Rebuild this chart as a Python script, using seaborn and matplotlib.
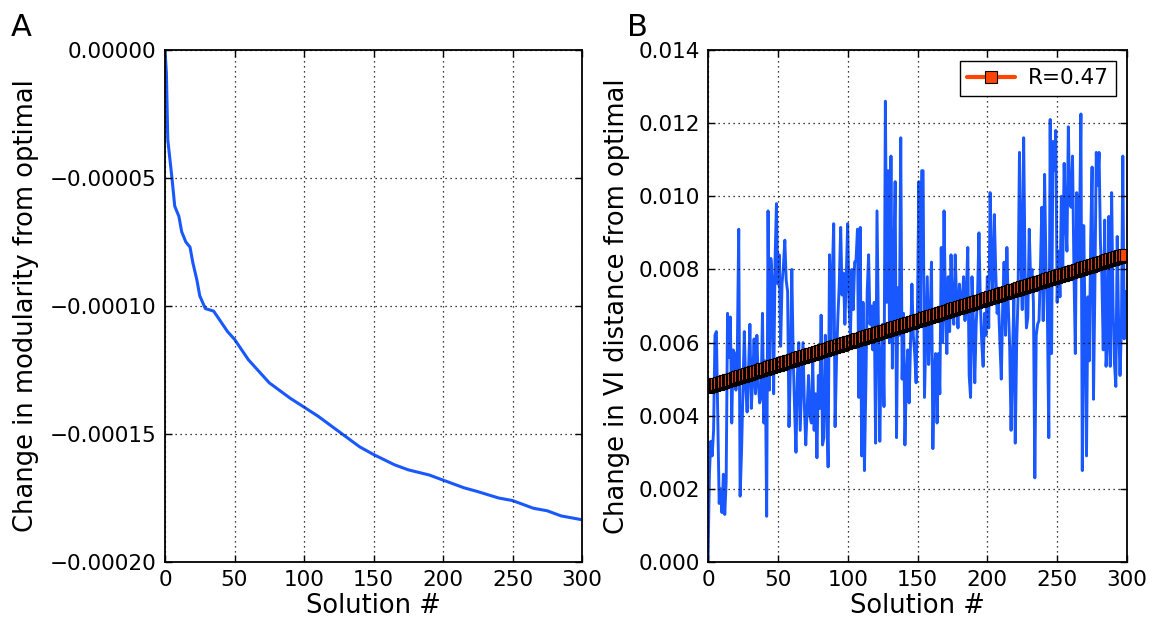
import numpy as np
import pandas as pd
import matplotlib
matplotlib.use("Agg")
import matplotlib.pyplot as plt
from matplotlib.ticker import FuncFormatter, MultipleLocator
import seaborn as sns

# ---------------- data ----------------
# Panel A: change in modularity from optimal (sorted solutions)
mod_x = [0, 1, 2, 5, 7, 10, 12, 15, 18, 20, 23, 25, 29, 35, 40, 45, 50, 60, 75,
         90, 100, 110, 125, 140, 150, 165, 175, 190, 200, 215, 225, 240, 250,
         265, 275, 285, 300]
mod_y_e5 = [0.0, -0.9, -3.5, -5.0, -6.1, -6.5, -7.1, -7.5, -7.7, -8.3, -9.0, -9.6,
            -10.1, -10.2, -10.6, -11.0, -11.3, -12.1, -13.0, -13.6, -13.95, -14.3,
            -14.9, -15.5, -15.8, -16.2, -16.4, -16.6, -16.8, -17.1, -17.25, -17.5,
            -17.6, -17.9, -18.0, -18.2, -18.35]

# Panel B: change in VI distance from optimal (x 1e-3), solutions 0..299
vi_e3 = [
    0.0, 2.4, 3.3, 2.9, 3.6, 6.2, 6.3, 4.0, 1.6, 2.0,
    1.35, 2.4, 1.3, 2.2, 6.8, 5.6, 6.7, 3.8, 5.8, 5.7,
    4.7, 5.8, 9.1, 1.8, 3.0, 4.6, 6.3, 4.8, 4.1, 5.2,
    6.5, 4.2, 5.0, 6.1, 4.6, 6.2, 4.9, 4.35, 4.5, 6.8,
    3.8, 5.5, 1.25, 9.6, 4.7, 8.3, 7.7, 4.6, 8.2, 9.8,
    7.6, 8.4, 5.9, 7.6, 8.1, 8.8, 7.7, 7.4, 3.7, 5.3,
    8.0, 5.6, 4.2, 3.0, 5.1, 6.0, 3.6, 4.8, 6.0, 4.3,
    3.2, 4.2, 5.1, 4.0, 3.8, 5.5, 3.6, 4.6, 2.85, 5.1,
    4.2, 6.75, 3.2, 3.4, 6.2, 4.5, 2.6, 8.4, 6.0, 7.8,
    9.25, 3.7, 5.5, 6.7, 7.6, 9.15, 7.3, 7.9, 6.5, 7.8,
    9.25, 7.0, 6.2, 8.0, 6.9, 8.2, 8.25, 9.1, 4.5, 9.15,
    2.9, 7.1, 2.5, 4.8, 7.4, 8.4, 6.5, 7.0, 5.8, 7.1,
    3.25, 9.6, 6.35, 3.3, 5.6, 6.5, 4.25, 12.6, 7.1, 10.7,
    6.0, 11.1, 5.3, 8.0, 10.4, 3.4, 7.5, 6.2, 11.6, 5.0,
    6.8, 3.2, 5.0, 5.8, 4.35, 6.0, 7.6, 6.2, 5.7, 4.9,
    7.0, 10.4, 6.5, 10.7, 10.7, 4.5, 6.2, 7.8, 5.4, 6.5,
    8.2, 3.1, 5.2, 5.7, 3.8, 5.7, 4.6, 8.6, 6.0, 9.6,
    7.0, 5.7, 7.8, 6.3, 8.4, 6.9, 6.5, 8.4, 7.1, 6.4,
    7.6, 6.9, 7.1, 7.8, 6.6, 7.4, 8.6, 5.1, 4.5, 7.8,
    6.6, 4.9, 6.5, 7.3, 9.0, 7.1, 6.0, 5.35, 6.8, 6.2,
    7.8, 6.4, 10.1, 8.0, 7.4, 9.5, 7.95, 6.8, 7.1, 6.0,
    5.0, 7.0, 8.2, 6.2, 8.6, 7.0, 5.9, 3.6, 5.6, 7.2,
    3.25, 6.0, 7.25, 11.2, 8.5, 6.9, 11.6, 8.0, 6.4, 6.7,
    9.1, 7.7, 8.0, 7.1, 2.3, 6.2, 6.5, 6.6, 8.0, 9.7,
    6.6, 10.6, 8.0, 6.8, 3.4, 12.1, 5.7, 11.5, 10.7, 11.8,
    7.1, 8.5, 7.25, 10.0, 8.0, 10.9, 9.35, 8.5, 11.9, 9.8,
    9.7, 11.1, 8.0, 5.7, 10.1, 7.8, 9.1, 12.25, 2.5, 9.2,
    6.5, 2.9, 7.25, 5.5, 8.8, 10.8, 4.45, 7.5, 11.2, 10.3,
    11.2, 8.7, 7.8, 5.8, 9.35, 5.35, 6.0, 9.45, 5.35, 10.1,
    7.0, 5.45, 4.8, 8.9, 6.5, 5.1, 6.4, 11.1, 6.1, 7.4,
]
legend_label = "R=0.47"
xlabel = "Solution #"
ylabel_a = "Change in modularity from optimal"
ylabel_b = "Change in VI distance from optimal"

# ---------------- frames ----------------
df_a = pd.DataFrame({"x": mod_x, "y": np.array(mod_y_e5) * 1e-5})
vi = np.array(vi_e3) * 1e-3
sol = np.arange(len(vi))
slope, intercept = np.polyfit(sol, vi, 1)
df_b = pd.DataFrame({"x": sol, "y": vi, "fit": intercept + slope * sol})

# ---------------- style ----------------
sns.set_style("ticks")
plt.rcParams["font.family"] = ["DejaVu Sans"]
plt.rcParams["axes.unicode_minus"] = True
for k in ["text.color", "axes.labelcolor", "xtick.color", "ytick.color",
          "xtick.labelcolor", "ytick.labelcolor"]:
    plt.rcParams[k] = "black"

BLUE = "#1a58ff"
FS_TICK = 15.5
FS_LAB = 18.5

fig = plt.figure(figsize=(11.53, 6.17), dpi=100)
ax_a = fig.add_axes([165 / 1153, 1 - 562 / 617, (582 - 165) / 1153, (562 - 50) / 617])
ax_b = fig.add_axes([708 / 1153, 1 - 562 / 617, (1127 - 708) / 1153, (562 - 50) / 617])


def style_axes(ax):
    for s in ax.spines.values():
        s.set_visible(True)
        s.set_linewidth(1.3)
        s.set_color("black")
    ax.tick_params(direction="in", top=True, right=True, length=5, width=1,
                   labelsize=FS_TICK, pad=6, colors="black")
    ax.grid(True, linestyle=(0, (1, 3)), color="black", linewidth=0.9)
    ax.set_axisbelow(False)
    ax.set_xlim(0, 300)
    ax.xaxis.set_major_locator(MultipleLocator(50))
    ax.set_xlabel(xlabel, fontsize=FS_LAB, labelpad=2)


def fmt(dec):
    def f(v, pos):
        s = f"{v:.{dec}f}"
        if float(s) == 0:
            s = s.lstrip("-")
        return s.replace("-", "\u2212")
    return FuncFormatter(f)


# Panel A
sns.lineplot(data=df_a, x="x", y="y", ax=ax_a, color=BLUE, linewidth=2.2,
             estimator=None, sort=False)
style_axes(ax_a)
ax_a.set_ylim(-0.0002, 0.0)
ax_a.yaxis.set_major_locator(MultipleLocator(0.00005))
ax_a.yaxis.set_major_formatter(fmt(5))
ax_a.set_ylabel(ylabel_a, fontsize=FS_LAB, labelpad=8)

# Panel B
sns.lineplot(data=df_b, x="x", y="y", ax=ax_b, color=BLUE, linewidth=2.1,
             estimator=None, sort=False)
sns.lineplot(data=df_b, x="x", y="fit", ax=ax_b, color="#ff4500", linewidth=3,
             marker="s", markersize=8, markerfacecolor="#ff4500",
             markeredgecolor="black", markeredgewidth=0.8,
             estimator=None, sort=False, label=legend_label)
style_axes(ax_b)
ax_b.set_ylim(0, 0.014)
ax_b.yaxis.set_major_locator(MultipleLocator(0.002))
ax_b.yaxis.set_major_formatter(fmt(3))
ax_b.set_ylabel(ylabel_b, fontsize=FS_LAB, labelpad=6)
leg = ax_b.legend(loc="upper right", fontsize=FS_TICK, frameon=True, fancybox=False,
                  borderpad=0.35, handlelength=2.2, handletextpad=0.6,
                  borderaxespad=0.5)
leg.get_frame().set_edgecolor("black")
leg.get_frame().set_linewidth(1.0)
leg.get_frame().set_alpha(1.0)

fig.text(11 / 1153, 1 - 36 / 617, "A", fontsize=22, ha="left", va="baseline")
fig.text(627 / 1153, 1 - 36 / 617, "B", fontsize=22, ha="left", va="baseline")

fig.savefig("out.png", dpi=100)
